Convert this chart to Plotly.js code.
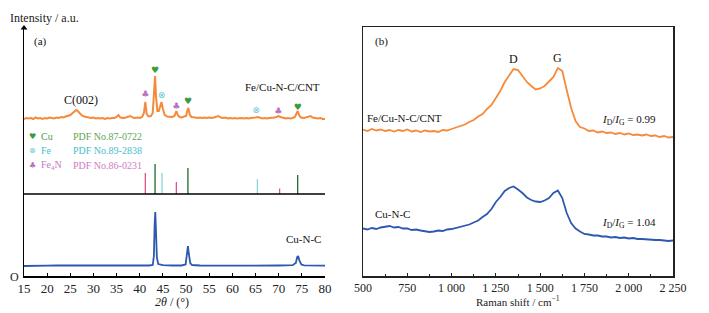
<!DOCTYPE html>
<html>
<head>
<meta charset="utf-8">
<script src="https://cdn.plot.ly/plotly-3.0.1.min.js"></script>
<style>html,body{margin:0;padding:0;background:#fff;}#chart{width:709px;height:313px;}</style>
</head>
<body>
<div id="chart"></div>
<script>
// ---------- (a) XRD ----------
const xrdOrangeX = [15,15.5,16,16.5,17,17.5,18,18.5,19,19.5,20,20.5,21,21.5,22,22.5,23,23.5,24,24.5,25,25.5,26,26.3,26.6,27,27.5,28,28.5,29,29.5,30,30.5,31,31.5,32,32.5,33,33.5,34,34.5,35,35.4,35.8,36.5,37,37.5,38,38.5,39,39.5,40,40.5,40.9,41.2,41.5,41.9,42.4,42.8,43.1,43.3,43.5,43.8,44.1,44.4,44.7,45.0,45.4,45.9,46.5,47,47.5,47.9,48.2,48.6,49,49.5,50,50.3,50.5,50.8,51.2,52,52.5,53,53.5,54,54.5,55,55.5,56,56.5,57,57.5,58,58.5,59,59.5,60,60.5,61,62,62.5,63,63.5,64,64.5,65,65.5,66,66.5,67,67.5,68,68.5,69,69.5,70,70.4,71,71.5,72,72.5,73,73.5,73.8,74.1,74.4,74.8,75.5,76,76.5,76.9,77.3,78,78.5,79,79.5,80];
const xrdOrangeY = [157,158,157.5,158,157,158.5,157.5,158,157,158,157.5,158.5,158,157.5,158.5,158,159,158.5,159.5,160,161,163,165,166,165,162.5,160.5,159.5,159,158.5,158,158.5,157.5,158,157.5,158,157,158,157.5,158,158,159,161,158.5,158,158.5,159,160,158.5,158,158.5,158,159,163,174,162,159.5,160,163,180,200,180,165,165,170,174,167,161,159.5,159,159,160,165,161,159,158.5,159,160,166,168,161,159,158.5,158,158.5,158,158.5,158,158.5,158,158.5,159,160,158.5,158,158.5,157.5,158,157.5,158,157.5,158,157.5,158,157.5,158,158,158.5,159,158,157.5,158,157.5,158,158,158.5,159,160,159,158,157.5,158,157.5,158,159,162,165,161,158.5,158,158.5,159,160,158.5,158,157.5,158,157,157];

const xrdBlueX = [15,17,20,22,25,27,30,32,35,37,40,42,42.8,43.05,43.2,43.35,43.5,43.7,44,45,47,49,49.9,50.2,50.4,50.6,50.9,51.3,53,56,60,63,65,68,70,73,73.7,74.0,74.2,74.5,74.9,75.5,78,80];
const xrdBlueY = [10,10.4,10.3,10.6,10.5,10.3,10.3,10.6,10.5,10.4,10.4,10.5,11,20,50,64,45,18,12,10.8,10.5,10.5,11.5,20,30,22,13,11,10.5,10.4,10.3,10.5,10.4,10.6,10.5,10.8,13,19,20,15,11.5,10.7,10.4,10.3];

// reference sticks (PDF cards): positions and heights
const cuPos = [43.3, 50.4, 74.1];
const cuRef = [112, 108, 101];
const fePos = [44.8, 65.4];
const feRef = [103, 97];
const fe4nPos = [41.2, 47.9, 70.2];
const fe4nRef = [103, 94, 87.5];
const refBase = 82;

// phase markers above the Fe/Cu-N-C/CNT pattern
const cuMarkX = [43.3, 50.4, 74.1];
const cuMarkY = [205, 174, 168];
const feMarkX = [44.7, 65.1];
const feMarkY = [180, 165];
const fe4nMarkX = [41.2, 47.9, 69.9];
const fe4nMarkY = [181, 169.5, 164];

const xrdTicks = [15,20,25,30,35,40,45,50,55,60,65,70,75,80];

// ---------- (b) Raman ----------
const ramanX = [500,525,550,575,600,625,650,675,700,725,750,775,800,825,850,875,900,925,950,975,1000,1025,1050,1075,1100,1125,1150,1175,1200,1225,1250,1275,1300,1325,1350,1375,1400,1425,1450,1475,1500,1525,1550,1575,1600,1625,1650,1675,1700,1725,1750,1775,1800,1825,1850,1875,1900,1925,1950,1975,2000,2025,2050,2075,2100,2125,2150,2175,2200,2225,2250];
const ramanOrange = [146.5,145,147,145.5,146.5,145,146,144.5,146,145,146.5,144.5,145.5,144,145.5,144.5,145,144,146,145.5,147,148.5,150,151.5,154,156,159.5,162,167,171,178,185,194,201,207,206,200.5,194,190,186.5,187.5,190,194.5,199,208,205,186,168,155,149,147.5,145,145.5,143.5,144.5,143,143.5,142,143,141.5,142.5,141,141.5,140.5,141.5,140,140.5,139,140,138.5,139];
const ramanBlue = [47.5,46.5,48,47,48.5,49,50,48.5,49,47.5,47.5,46,46.5,45.5,45,44,44.5,45.5,45,46.5,47,48,49,50.5,51.5,53.5,55.5,59,62,67,74,79,85,88,89.5,86.5,83,78.5,76,74.5,74,75.5,78,83,85.5,78,63,53,47.5,44.5,42,41.5,40.5,40.5,39.5,39.5,38.5,39,38,38.5,37.5,38,37,37,36.5,36.5,36,36,35.5,35,35.5];
const ramanTickVals = [500,750,1000,1250,1500,1750,2000,2250];
const ramanTickText = ['500','750','1 000','1 250','1 500','1 750','2 000','2 250'];

// ---------- colours ----------
const ORANGE = '#F58A3A';
const BLUE = '#2D58B0';
const CU_COL = '#1F6A2C';
const FE_COL = '#86D6DE';
const FE4N_COL = '#E0508E';

const W = 709, H = 313;
const px = v => v / W;
const py = v => 1 - v / H;

function sticks(pos, hts, base) {
  const x = [], y = [];
  pos.forEach((p, i) => { x.push(p, p, null); y.push(base, hts[i], null); });
  return {x, y};
}
const cuS = sticks(cuPos, cuRef, refBase);
const feS = sticks(fePos, feRef, refBase);
const fe4nS = sticks(fe4nPos, fe4nRef, refBase);

const serif = 'Liberation Serif, Times New Roman, serif';
const symFont = 'DejaVu Sans';

const traces = [
  {x: xrdOrangeX, y: xrdOrangeY, mode: 'lines', line: {color: ORANGE, width: 2}, xaxis: 'x', yaxis: 'y', hoverinfo: 'skip'},
  {x: xrdBlueX, y: xrdBlueY, mode: 'lines', line: {color: BLUE, width: 1.8}, xaxis: 'x', yaxis: 'y', hoverinfo: 'skip'},
  {x: cuS.x, y: cuS.y, mode: 'lines', line: {color: CU_COL, width: 1.3}, xaxis: 'x', yaxis: 'y'},
  {x: feS.x, y: feS.y, mode: 'lines', line: {color: FE_COL, width: 1.3}, xaxis: 'x', yaxis: 'y'},
  {x: fe4nS.x, y: fe4nS.y, mode: 'lines', line: {color: FE4N_COL, width: 1.3}, xaxis: 'x', yaxis: 'y'},
  {x: cuMarkX, y: cuMarkY, mode: 'text', text: cuMarkX.map(() => '♥'), textfont: {family: symFont, size: 9, color: '#3A9A3C'}, xaxis: 'x', yaxis: 'y', cliponaxis: false},
  {x: feMarkX, y: feMarkY, mode: 'text', text: feMarkX.map(() => '⊗'), textfont: {family: symFont, size: 9, color: '#5CC9D6'}, xaxis: 'x', yaxis: 'y', cliponaxis: false},
  {x: fe4nMarkX, y: fe4nMarkY, mode: 'text', text: fe4nMarkX.map(() => '♣'), textfont: {family: symFont, size: 9, color: '#B86FC2'}, xaxis: 'x', yaxis: 'y', cliponaxis: false},
  {x: [15], y: [248], mode: 'markers', marker: {symbol: 'triangle-up', size: 6, color: '#000'}, xaxis: 'x', yaxis: 'y', cliponaxis: false},
  {x: ramanX, y: ramanOrange, mode: 'lines', line: {color: ORANGE, width: 1.8}, xaxis: 'x2', yaxis: 'y2'},
  {x: ramanX, y: ramanBlue, mode: 'lines', line: {color: BLUE, width: 1.8}, xaxis: 'x2', yaxis: 'y2'}
];

const ann = (text, x, y, opts = {}) => Object.assign({
  text, x: px(x), y: py(y), xref: 'paper', yref: 'paper', showarrow: false,
  xanchor: 'left', yanchor: 'middle', font: {family: serif, size: 11, color: '#111'}
}, opts);

const annotations = [
  ann('Intensity / a.u.', 8, 18, {font: {family: serif, size: 12, color: '#222'}}),
  ann('(a)', 32, 41),
  ann('O', 15, 277, {xanchor: 'center', font: {family: serif, size: 12, color: '#222'}}),
  ann('C(002)', 81, 100, {xanchor: 'center', font: {family: serif, size: 12, color: '#111'}}),
  ann('Fe/Cu-N-C/CNT', 243, 87),
  ann('Cu-N-C', 284, 239),
  ann('♥', 32, 136, {xanchor: 'center', font: {family: symFont, size: 8, color: '#3A9A3C'}}),
  ann('Cu', 39, 136, {font: {family: serif, size: 10, color: '#4E9A46'}}),
  ann('PDF No.87-0722', 71, 136, {font: {family: serif, size: 10, color: '#5FA653'}}),
  ann('⊗', 32, 150, {xanchor: 'center', font: {family: symFont, size: 8, color: '#5CC9D6'}}),
  ann('Fe', 39, 150, {font: {family: serif, size: 10, color: '#45C0CC'}}),
  ann('PDF No.89-2838', 71, 150, {font: {family: serif, size: 10, color: '#45C0CC'}}),
  ann('♣', 32, 165, {xanchor: 'center', font: {family: symFont, size: 8, color: '#B86FC2'}}),
  ann('Fe<sub>4</sub>N', 39, 165, {font: {family: serif, size: 10, color: '#C27AC4'}}),
  ann('PDF No.86-0231', 71, 165, {font: {family: serif, size: 10, color: '#D27AC4'}}),
  ann('<i>2θ</i> / (°)', 172, 302, {xanchor: 'center', font: {family: serif, size: 12, color: '#222'}}),
  ann('(b)', 373, 41),
  ann('D', 513, 59, {xanchor: 'center', font: {family: serif, size: 12, color: '#111'}}),
  ann('G', 557, 58, {xanchor: 'center', font: {family: serif, size: 12, color: '#111'}}),
  ann('Fe/Cu-N-C/CNT', 365, 118),
  ann('<i>I</i><sub>D</sub>/<i>I</i><sub>G</sub> = 0.99', 600, 120),
  ann('Cu-N-C', 373, 214),
  ann('<i>I</i><sub>D</sub>/<i>I</i><sub>G</sub> = 1.04', 600, 223),
  ann('Raman shift / cm<sup>−1</sup>', 518, 301, {xanchor: 'center', font: {family: serif, size: 11, color: '#222'}})
];

const layout = {
  width: W, height: H,
  margin: {l: 0, r: 0, t: 0, b: 0},
  paper_bgcolor: '#fff', plot_bgcolor: 'rgba(0,0,0,0)',
  showlegend: false,
  font: {family: serif, color: '#222'},
  xaxis: {
    domain: [px(24), px(325)], range: [15, 80], anchor: 'y',
    showline: true, linecolor: '#000', linewidth: 1.5, showgrid: false, zeroline: false,
    ticks: 'inside', ticklen: 3, tickcolor: '#000', tickwidth: 1,
    tickvals: xrdTicks, ticktext: xrdTicks.map(String),
    tickfont: {family: serif, size: 13, color: '#222'}
  },
  yaxis: {
    domain: [py(276), py(28)], range: [0, 248], anchor: 'x',
    showline: true, linecolor: '#000', linewidth: 1.5, showgrid: false, zeroline: false,
    showticklabels: false, ticks: ''
  },
  xaxis2: {
    domain: [px(363), px(673)], range: [500, 2250], anchor: 'y2',
    showline: true, mirror: true, linecolor: '#222', linewidth: 1.5, showgrid: false, zeroline: false,
    ticks: 'inside', ticklen: 3, tickcolor: '#222', tickwidth: 1,
    tickvals: ramanTickVals, ticktext: ramanTickText,
    minor: {ticks: 'inside', ticklen: 2, dtick: 125, tick0: 500, tickcolor: '#222', showgrid: false},
    tickfont: {family: serif, size: 12, color: '#222'}
  },
  yaxis2: {
    domain: [py(276), py(27)], range: [0, 249], anchor: 'x2',
    showline: true, mirror: true, linecolor: '#222', linewidth: 1.5, showgrid: false, zeroline: false,
    showticklabels: false, ticks: ''
  },
  shapes: [
    {type: 'line', xref: 'x', yref: 'y', x0: 15, x1: 80.3, y0: refBase, y1: refBase, line: {color: '#000', width: 1.5}}
  ],
  annotations
};

Plotly.newPlot('chart', traces, layout, {staticPlot: true, displayModeBar: false});
</script>
</body>
</html>
